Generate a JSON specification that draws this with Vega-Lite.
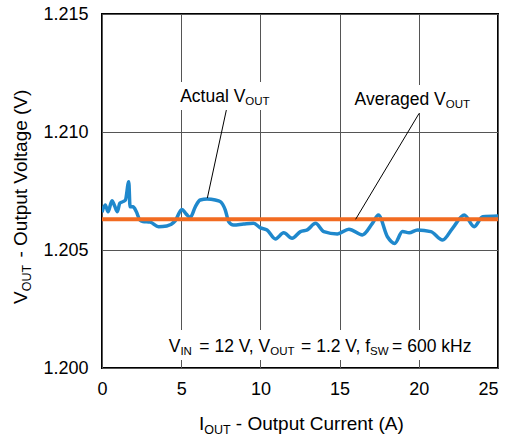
{
  "$schema": "https://vega.github.io/schema/vega-lite/v6.json",
  "width": 396,
  "height": 354,
  "autosize": "none",
  "padding": {"left": 102, "top": 14, "right": 9, "bottom": 68},
  "background": "white",
  "config": {
    "font": "Liberation Sans",
    "view": {"stroke": "black", "strokeWidth": 2},
    "axis": {
      "labelFont": "Liberation Sans",
      "labelFontSize": 18,
      "labelColor": "black",
      "domain": false,
      "ticks": false,
      "gridColor": "#555555",
      "gridWidth": 1,
      "gridOpacity": 1
    }
  },
  "datasets": {
    "actual": [
      {"I": 0.0, "V": 1.2066},
      {"I": 0.21, "V": 1.20691},
      {"I": 0.38, "V": 1.20662},
      {"I": 0.63, "V": 1.20709},
      {"I": 0.8, "V": 1.20686},
      {"I": 0.97, "V": 1.20662},
      {"I": 1.12, "V": 1.20698},
      {"I": 1.33, "V": 1.20705},
      {"I": 1.48, "V": 1.20712},
      {"I": 1.69, "V": 1.20789},
      {"I": 1.77, "V": 1.20683},
      {"I": 1.96, "V": 1.20683},
      {"I": 2.17, "V": 1.20662},
      {"I": 2.39, "V": 1.20627},
      {"I": 2.58, "V": 1.20621},
      {"I": 3.04, "V": 1.20618},
      {"I": 3.57, "V": 1.20599},
      {"I": 4.09, "V": 1.20602},
      {"I": 4.62, "V": 1.20623},
      {"I": 5.04, "V": 1.20672},
      {"I": 5.32, "V": 1.20652},
      {"I": 5.57, "V": 1.20638},
      {"I": 5.89, "V": 1.20683},
      {"I": 6.2, "V": 1.20712},
      {"I": 6.63, "V": 1.20716},
      {"I": 7.15, "V": 1.20712},
      {"I": 7.47, "V": 1.20705},
      {"I": 7.78, "V": 1.2067},
      {"I": 8.0, "V": 1.2062},
      {"I": 8.3, "V": 1.20606},
      {"I": 8.94, "V": 1.2061},
      {"I": 9.57, "V": 1.20613},
      {"I": 10.0, "V": 1.20594},
      {"I": 10.42, "V": 1.20585},
      {"I": 10.95, "V": 1.20547},
      {"I": 11.47, "V": 1.20573},
      {"I": 12.0, "V": 1.2055},
      {"I": 12.53, "V": 1.20578},
      {"I": 12.96, "V": 1.20585},
      {"I": 13.48, "V": 1.20613},
      {"I": 14.0, "V": 1.20578},
      {"I": 14.86, "V": 1.20568},
      {"I": 15.59, "V": 1.20588},
      {"I": 16.44, "V": 1.20564},
      {"I": 17.07, "V": 1.20613},
      {"I": 17.45, "V": 1.20648},
      {"I": 18.02, "V": 1.20556},
      {"I": 18.48, "V": 1.20528},
      {"I": 18.97, "V": 1.20578},
      {"I": 19.39, "V": 1.20573},
      {"I": 19.92, "V": 1.20585},
      {"I": 20.76, "V": 1.20578},
      {"I": 21.5, "V": 1.20542},
      {"I": 22.13, "V": 1.20592},
      {"I": 22.87, "V": 1.20648},
      {"I": 23.5, "V": 1.20599},
      {"I": 24.03, "V": 1.20641},
      {"I": 25.0, "V": 1.20644}
    ],
    "averaged": [
      {"I": 0, "V": 1.2063},
      {"I": 25, "V": 1.2063}
    ],
    "mainText": [
      {"label": "Actual V", "I": 9.05, "V": 1.21128},
      {"label": "Averaged V", "I": 21.7, "V": 1.21114},
      {"label": "V", "I": 4.95, "V": 1.20069},
      {"label": "= 12 V, V", "I": 10.62, "V": 1.20069},
      {"label": "= 1.2 V, f", "I": 16.92, "V": 1.20069},
      {"label": "= 600 kHz", "I": 23.32, "V": 1.20069}
    ],
    "subText": [
      {"label": "OUT", "I": 9.05, "V": 1.21128},
      {"label": "OUT", "I": 21.7, "V": 1.21114},
      {"label": "IN", "I": 4.95, "V": 1.20069},
      {"label": "OUT", "I": 10.62, "V": 1.20069},
      {"label": "SW", "I": 16.92, "V": 1.20069}
    ],
    "xTitleMain": [
      {"label": "I", "I": 6.45, "V": 1.19737},
      {"label": "- Output Current (A)", "I": 19.05, "V": 1.19737}
    ],
    "xTitleSub": [
      {"label": "OUT", "I": 6.45, "V": 1.19737}
    ],
    "yTitleMainRight": [
      {"label": "V", "I": -4.75, "V": 1.20325}
    ],
    "yTitleMainLeft": [
      {"label": "- Output Voltage (V)", "I": -4.75, "V": 1.20468}
    ],
    "yTitleSub": [
      {"label": "OUT", "I": -4.75, "V": 1.20325}
    ]
  },
  "layer": [
    {
      "data": {"name": "actual"},
      "mark": {"type": "line", "color": "#1f88cc", "strokeWidth": 3.5, "interpolate": "monotone", "opacity": 0},
      "encoding": {
        "x": {
          "field": "I", "type": "quantitative",
          "scale": {"domain": [0, 25], "nice": false},
          "axis": {"values": [0, 5, 10, 15, 20, 25], "title": null, "labelPadding": 12, "grid": true, "labelFlush": false, "labelAlign": {"expr": "datum.value == 25 ? 'right' : 'center'"}}
        },
        "y": {
          "field": "V", "type": "quantitative",
          "scale": {"domain": [1.2, 1.215], "nice": false, "zero": false},
          "axis": {"values": [1.2, 1.205, 1.21, 1.215], "format": ".3f", "title": null, "labelPadding": 14, "grid": true}
        }
      }
    },
    {
      "data": {"values": [{}]},
      "mark": {"type": "rect", "color": "white"},
      "encoding": {
        "x": {"datum": 4.7, "type": "quantitative"},
        "x2": {"datum": 10.8},
        "y": {"datum": 1.21212, "type": "quantitative"},
        "y2": {"datum": 1.21093}
      }
    },
    {
      "data": {"values": [{}]},
      "mark": {"type": "rect", "color": "white"},
      "encoding": {
        "x": {"datum": 15.8, "type": "quantitative"},
        "x2": {"datum": 24.0},
        "y": {"datum": 1.21199, "type": "quantitative"},
        "y2": {"datum": 1.21081}
      }
    },
    {
      "data": {"values": [{}]},
      "mark": {"type": "rect", "color": "white"},
      "encoding": {
        "x": {"datum": 3.8, "type": "quantitative"},
        "x2": {"datum": 23.9},
        "y": {"datum": 1.20161, "type": "quantitative"},
        "y2": {"datum": 1.20034}
      }
    },
    {
      "data": {"name": "actual"},
      "mark": {"type": "line", "color": "#1f88cc", "strokeWidth": 3.5, "interpolate": "monotone", "clip": true},
      "encoding": {
        "x": {"field": "I", "type": "quantitative"},
        "y": {"field": "V", "type": "quantitative"}
      }
    },
    {
      "data": {"name": "averaged"},
      "mark": {"type": "line", "color": "#f26b21", "strokeWidth": 4},
      "encoding": {
        "x": {"field": "I", "type": "quantitative"},
        "y": {"field": "V", "type": "quantitative"}
      }
    },
    {
      "data": {"values": [{}]},
      "mark": {"type": "rule", "color": "black", "strokeWidth": 1},
      "encoding": {
        "x": {"datum": 7.85, "type": "quantitative"},
        "y": {"datum": 1.21093, "type": "quantitative"},
        "x2": {"datum": 6.65},
        "y2": {"datum": 1.2072}
      }
    },
    {
      "data": {"values": [{}]},
      "mark": {"type": "rule", "color": "black", "strokeWidth": 1},
      "encoding": {
        "x": {"datum": 20.02, "type": "quantitative"},
        "y": {"datum": 1.21079, "type": "quantitative"},
        "x2": {"datum": 16.01},
        "y2": {"datum": 1.2063}
      }
    },
    {
      "data": {"name": "mainText"},
      "mark": {"type": "text", "align": "right", "baseline": "alphabetic", "fontSize": 17.5, "color": "black", "font": "Liberation Sans"},
      "encoding": {
        "x": {"field": "I", "type": "quantitative"},
        "y": {"field": "V", "type": "quantitative"},
        "text": {"field": "label"}
      }
    },
    {
      "data": {"name": "subText"},
      "mark": {"type": "text", "align": "left", "baseline": "alphabetic", "fontSize": 11.5, "dy": 3, "color": "black", "font": "Liberation Sans"},
      "encoding": {
        "x": {"field": "I", "type": "quantitative"},
        "y": {"field": "V", "type": "quantitative"},
        "text": {"field": "label"}
      }
    },
    {
      "data": {"name": "xTitleMain"},
      "mark": {"type": "text", "align": "right", "baseline": "alphabetic", "fontSize": 19, "color": "black", "font": "Liberation Sans"},
      "encoding": {
        "x": {"field": "I", "type": "quantitative"},
        "y": {"field": "V", "type": "quantitative"},
        "text": {"field": "label"}
      }
    },
    {
      "data": {"name": "xTitleSub"},
      "mark": {"type": "text", "align": "left", "baseline": "alphabetic", "fontSize": 12.5, "dy": 4, "color": "black", "font": "Liberation Sans"},
      "encoding": {
        "x": {"field": "I", "type": "quantitative"},
        "y": {"field": "V", "type": "quantitative"},
        "text": {"field": "label"}
      }
    },
    {
      "data": {"name": "yTitleMainRight"},
      "mark": {"type": "text", "align": "right", "baseline": "alphabetic", "angle": 270, "fontSize": 19, "color": "black", "font": "Liberation Sans"},
      "encoding": {
        "x": {"field": "I", "type": "quantitative"},
        "y": {"field": "V", "type": "quantitative"},
        "text": {"field": "label"}
      }
    },
    {
      "data": {"name": "yTitleMainLeft"},
      "mark": {"type": "text", "align": "left", "baseline": "alphabetic", "angle": 270, "fontSize": 19, "color": "black", "font": "Liberation Sans"},
      "encoding": {
        "x": {"field": "I", "type": "quantitative"},
        "y": {"field": "V", "type": "quantitative"},
        "text": {"field": "label"}
      }
    },
    {
      "data": {"name": "yTitleSub"},
      "mark": {"type": "text", "align": "left", "baseline": "alphabetic", "angle": 270, "fontSize": 12.5, "dy": 4, "color": "black", "font": "Liberation Sans"},
      "encoding": {
        "x": {"field": "I", "type": "quantitative"},
        "y": {"field": "V", "type": "quantitative"},
        "text": {"field": "label"}
      }
    }
  ]
}
